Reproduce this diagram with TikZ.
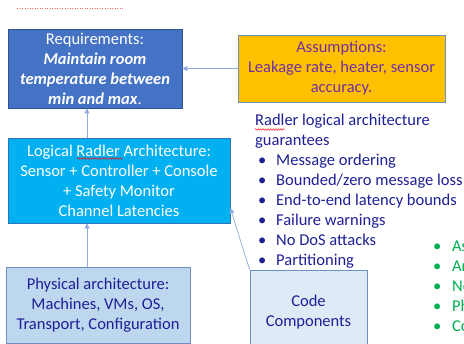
\documentclass[tikz,border=0pt]{standalone}
\usepackage{fontspec}
\setmainfont{Carlito}
\usetikzlibrary{
    arrows.meta,
    positioning,
    calc,
    decorations.pathmorphing
}
\definecolor{reqblue}{HTML}{4472C4}
\definecolor{reqedge}{HTML}{2F528F}
\definecolor{asmorange}{HTML}{FFC000}
\definecolor{asmtext}{HTML}{7030A0}
\definecolor{logcyan}{HTML}{00B0F0}
\definecolor{logedge}{HTML}{2E75B6}
\definecolor{physblue}{HTML}{BDD7EE}
\definecolor{codeblue}{HTML}{DEEBF7}
\definecolor{softedge}{HTML}{6F8FC0}
\definecolor{navytext}{HTML}{1F1F96}
\definecolor{linkblue}{HTML}{8FAADC}
\definecolor{bulletgreen}{HTML}{00B050}

\newcommand{\slidefont}{\fontsize{16.5}{20}\selectfont}
\newcommand{\bul}[1][18pt]{\makebox[#1][l]{\textbullet}}

\tikzset{
    % --- Slide box (filled rectangle, centred text) ---
    box/.style = {
        rectangle, draw=softedge, line width=0.8pt,
        align=center, inner sep=2pt,
        font=\slidefont
    },
    % --- Plain bullet list next to the boxes ---
    list/.style = {
        align=left, inner sep=0pt,
        font=\slidefont
    },
    % --- Thin connector with small triangle tip ---
    link/.style = {
        draw=linkblue, line width=0.7pt,
        -{Triangle[length=5pt,width=5pt]}
    },
    % --- Spell-check squiggle ---
    squiggle/.style = {
        draw=red, line width=0.4pt,
        decorate, decoration={snake, amplitude=0.8pt, segment length=2.5pt}
    }
}

\begin{document}
\begin{tikzpicture}[x=1pt, y=1pt]

\useasboundingbox (0,0) rectangle (464,-344);

% ---------------------------------------------------------
% Top boxes
% ---------------------------------------------------------
\node[box, fill=reqblue, draw=reqedge, text=white,
      minimum width=174pt, minimum height=79pt] (Req) at (95,-68.5) {%
    Requirements:\\
    \textbf{\textit{Maintain room}}\\
    \textbf{\textit{temperature between}}\\
    \textbf{\textit{min and max}}.
};

\node[box, fill=asmorange, text=asmtext,
      minimum width=207pt, minimum height=67pt] (Asm) at (341.5,-68.5) {%
    Assumptions:\\
    Leakage rate, heater, sensor\\
    accuracy.
};

% ---------------------------------------------------------
% Logical architecture
% ---------------------------------------------------------
\node[box, fill=logcyan, draw=logedge, text=white,
      minimum width=222pt, minimum height=85pt] (Logic) at (119,-180.5) {%
    Logical Radler Architecture:\\
    Sensor + Controller + Console\\
    + Safety Monitor\\
    Channel Latencies
};

% ---------------------------------------------------------
% Bottom boxes
% ---------------------------------------------------------
\node[box, fill=physblue, text=navytext,
      minimum width=184pt, minimum height=76pt] (Phys) at (98,-305) {%
    Physical architecture:\\
    Machines, VMs, OS,\\
    Transport, Configuration
};

\node[box, fill=codeblue, text=navytext,
      minimum width=117pt, minimum height=84pt] (Code) at (308.5,-312) {%
    Code\\
    Components
};

% ---------------------------------------------------------
% Guarantee lists
% ---------------------------------------------------------
\node[list, text=navytext, anchor=north west] (Guar) at (255,-114) {%
    Radler logical architecture\\
    guarantees\\
    \hspace*{3pt}\bul Message ordering\\
    \hspace*{3pt}\bul Bounded/zero message loss\\
    \hspace*{3pt}\bul End-to-end latency bounds\\
    \hspace*{3pt}\bul Failure warnings\\
    \hspace*{3pt}\bul No DoS attacks\\
    \hspace*{3pt}\bul Partitioning
};

\node[list, text=bulletgreen, anchor=north west] (More) at (433,-241) {%
    \bul[19pt]As\\
    \bul[19pt]Ar\\
    \bul[19pt]No\\
    \bul[19pt]Ph\\
    \bul[19pt]Co
};

% ---------------------------------------------------------
% Connectors
% ---------------------------------------------------------
\coordinate (spine) at (87,0);
\draw[link] (Asm.west) -- (Req.east);
\draw[link] (Logic.north -| spine) -- (Req.south -| spine);
\draw[link] (Phys.north -| spine) -- (Logic.south -| spine);
\draw[link] (Code.north west) -- (Logic.-14);

% spell-check marks
\draw[squiggle] (77,-158.5) -- (123,-158.5);
\draw[squiggle] (255,-129.5) -- (285,-129.5);
\draw[red!60, dotted, line width=0.5pt] (17,-8) -- (123,-8);

\end{tikzpicture}
\end{document}
